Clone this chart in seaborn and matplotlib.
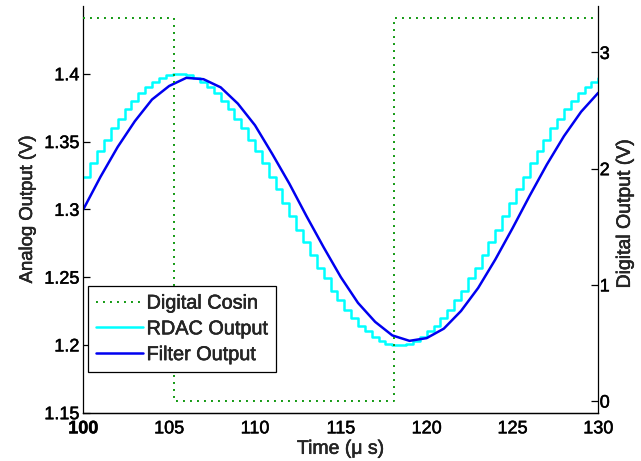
import numpy as np
import matplotlib
matplotlib.use("Agg")
import matplotlib.pyplot as plt
import matplotlib.patheffects as pe
import seaborn as sns

sns.set_style("white")
plt.rcParams['font.family'] = ['Liberation Sans', 'DejaVu Sans']

# ---- data ----
rdac_start = 100.0
rdac_step = 0.4
rdac_values = [1.324, 1.334, 1.343, 1.351, 1.360, 1.367, 1.374, 1.380, 1.386, 1.390,
               1.394, 1.397, 1.399, 1.400, 1.400, 1.399, 1.397, 1.394, 1.390, 1.386,
               1.380, 1.374, 1.367, 1.360, 1.351, 1.343, 1.334, 1.324, 1.315, 1.305,
               1.295, 1.285, 1.276, 1.266, 1.257, 1.249, 1.240, 1.233, 1.226, 1.220,
               1.214, 1.210, 1.206, 1.203, 1.201, 1.200, 1.200, 1.201, 1.203, 1.206,
               1.210, 1.214, 1.220, 1.226, 1.233, 1.240, 1.249, 1.257, 1.266, 1.276,
               1.285, 1.295, 1.305, 1.315, 1.324, 1.334, 1.343, 1.351, 1.360, 1.367,
               1.374, 1.380, 1.386, 1.390, 1.394, 1.397]
rdac_time = rdac_start + rdac_step * np.arange(len(rdac_values))

filter_time = [100, 101, 102, 103, 104, 105, 106, 107, 108, 109, 110, 111, 112, 113, 114,
               115, 116, 117, 118, 119, 120, 121, 122, 123, 124, 125, 126, 127, 128, 129, 130]
filter_values = [1.300, 1.324, 1.346, 1.365, 1.381, 1.391, 1.397, 1.396, 1.390, 1.378,
                 1.362, 1.341, 1.319, 1.295, 1.272, 1.250, 1.231, 1.217, 1.207, 1.203,
                 1.205, 1.212, 1.225, 1.242, 1.263, 1.286, 1.310, 1.333, 1.354, 1.372, 1.386]

digital_time = [100.0, 105.3, 118.1, 130.0]
digital_levels = [3.3, 0.0, 3.3, 3.3]

x_ticks = [100, 105, 110, 115, 120, 125, 130]
left_ticks = [1.15, 1.2, 1.25, 1.3, 1.35, 1.4]
right_ticks = [0, 1, 2, 3]
labels = ["Digital Cosin", "RDAC Output", "Filter Output"]

# ---- figure ----
fig = plt.figure(figsize=(6.41, 4.61), dpi=100)
ax = fig.add_axes([0.1300, 0.1048, 0.8034, 0.8822])
ax2 = ax.twinx()

sns.lineplot(x=rdac_time, y=rdac_values, ax=ax, color="#00FFFF", linewidth=1.8,
             drawstyle="steps-post", estimator=None, sort=False, legend=False)
rdac_line = ax.lines[-1]
sns.lineplot(x=filter_time, y=filter_values, ax=ax, color="#0000F0", linewidth=1.8,
             estimator=None, sort=False, legend=False)
filt_line = ax.lines[-1]
sns.lineplot(x=digital_time, y=digital_levels, ax=ax2, color="#119911", linewidth=1.4,
             linestyle=(0, (1, 2.6)), drawstyle="steps-post", estimator=None, sort=False,
             legend=False)
dig_line = ax2.lines[-1]

ax.set_xlim(100, 130)
ax.set_ylim(1.15, 1.45)
ax2.set_ylim(-0.1, 3.4)
ax.set_xticks(x_ticks)
ax.set_xticklabels([str(v) for v in x_ticks])
ax.set_yticks(left_ticks)
ax.set_yticklabels([f"{v:g}" for v in left_ticks])
ax2.set_yticks(right_ticks)

for a in (ax, ax2):
    a.spines['top'].set_visible(False)
    for s in a.spines.values():
        s.set_color("black")
        s.set_linewidth(0.9)
ax.spines['right'].set_visible(False)
ax2.spines['left'].set_visible(False)

ax.tick_params(axis='both', direction='in', length=5, width=0.9, labelsize=13,
               colors='black', pad=3)
ax.tick_params(axis='x', pad=5.5)
ax2.tick_params(axis='y', direction='in', length=5, width=0.9, labelsize=13,
                colors='black', pad=1)

ax.set_xlabel("Time (μ s)", fontsize=14, labelpad=2.5)
ax.set_ylabel("Analog Output (V)", fontsize=13.3, labelpad=6)
ax2.set_ylabel("Digital Output (V)", fontsize=14)
ax2.yaxis.set_label_coords(1.036, 0.49)

leg = ax2.legend(handles=[dig_line, rdac_line, filt_line], labels=labels,
                 loc="lower left", bbox_to_anchor=(0.009, 0.100), borderaxespad=0,
                 frameon=True, fancybox=False, framealpha=1, edgecolor="black",
                 fontsize=14.3, handlelength=2.35, handletextpad=0.2, labelspacing=0.34,
                 borderpad=0.4)
leg.get_frame().set_linewidth(0.9)

stroke = [pe.withStroke(linewidth=0.35, foreground="black")]
texts = (ax.get_xticklabels() + ax.get_yticklabels() + ax2.get_yticklabels()
         + leg.get_texts() + [ax.xaxis.label, ax.yaxis.label, ax2.yaxis.label])
for t in texts:
    t.set_path_effects(stroke)
ax.get_xticklabels()[0].set_fontweight("bold")

fig.savefig("out.png", dpi=100)
